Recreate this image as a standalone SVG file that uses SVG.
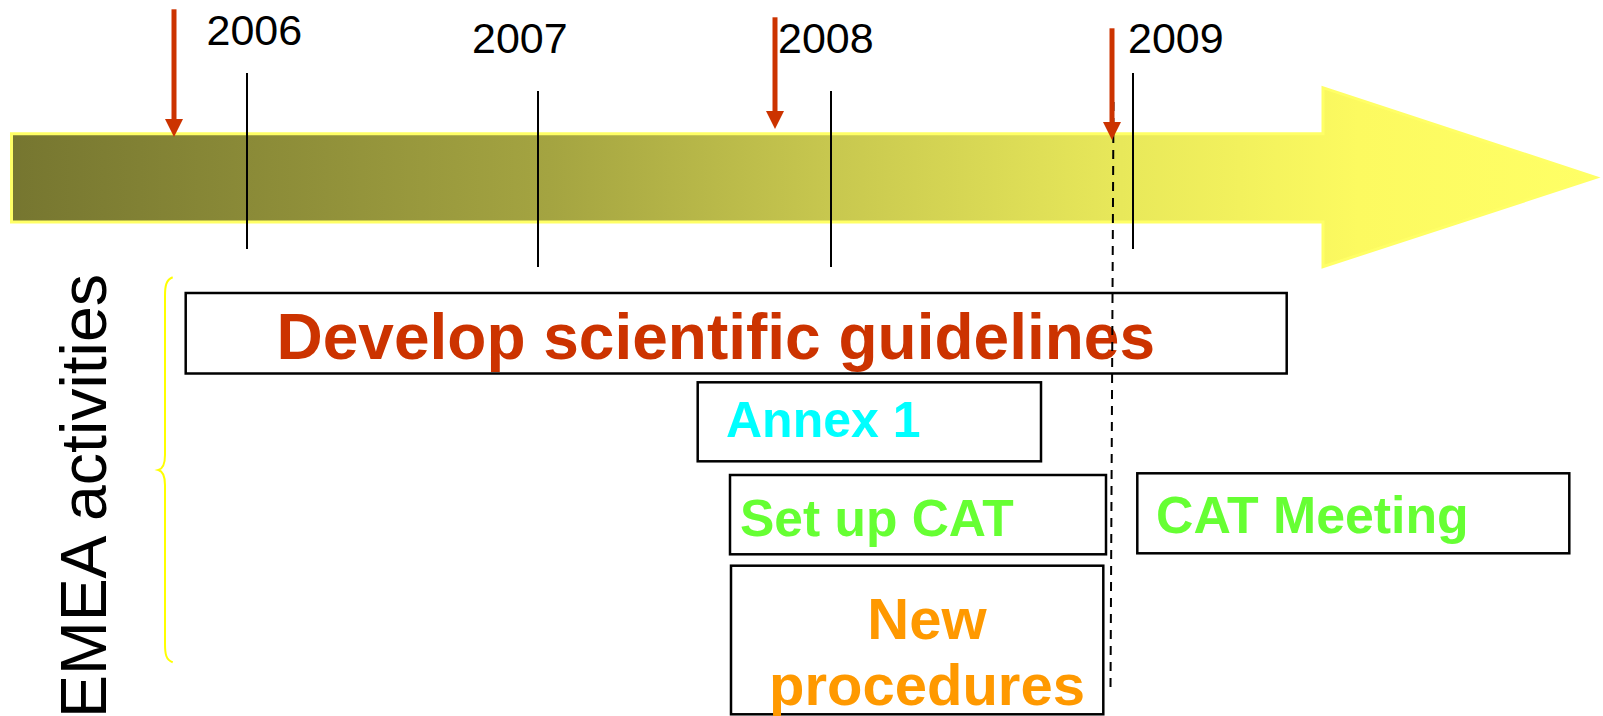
<svg xmlns="http://www.w3.org/2000/svg" width="1603" height="716" viewBox="0 0 1603 716">
  <defs>
    <linearGradient id="barGrad" gradientUnits="userSpaceOnUse" x1="11" y1="0" x2="1596" y2="0">
      <stop offset="0" stop-color="#767630"/>
      <stop offset="0.34" stop-color="#A4A441"/>
      <stop offset="0.52" stop-color="#C8C84F"/>
      <stop offset="0.7" stop-color="#E8E85A"/>
      <stop offset="0.85" stop-color="#FCFA60"/>
      <stop offset="1" stop-color="#FFFF66"/>
    </linearGradient>
    <marker id="redHead" markerUnits="userSpaceOnUse" markerWidth="18" markerHeight="18" viewBox="0 0 18 18" refX="1" refY="9" orient="auto">
      <path d="M0,0 L18,9 L0,18 z" fill="#CC3300"/>
    </marker>
    <style>
      .year { font-family: "Liberation Sans", Arial, sans-serif; font-size: 43px; fill: #000; }
      .tick { stroke: #000; stroke-width: 2; }
      .box { fill: #fff; stroke: #000; stroke-width: 2.5; }
      .lbl { font-family: "Liberation Sans", Arial, sans-serif; font-weight: bold; }
      .red-arrow { stroke: #CC3300; stroke-width: 5; fill: none; marker-end: url(#redHead); }
    </style>
  </defs>

  <rect width="1603" height="716" fill="#fff"/>

  <g id="timeline">
    <path d="M11.5,133.8 L1323,133.8 L1323,87.7 L1595.7,177.5 L1323,266.7 L1323,222 L11.5,222 Z" fill="url(#barGrad)" stroke="#FFFF66" stroke-width="3" stroke-linejoin="miter"/>
  </g>

  <g id="years">
    <text class="year" x="206.5" y="45">2006</text>
    <text class="year" x="472" y="52.7">2007</text>
    <text class="year" x="778" y="52.7">2008</text>
    <text class="year" x="1128" y="52.7">2009</text>
  </g>

  <g id="ticks">
    <line class="tick" x1="247" y1="73" x2="247" y2="249"/>
    <line class="tick" x1="538" y1="91" x2="538" y2="267"/>
    <line class="tick" x1="831" y1="91" x2="831" y2="267"/>
    <line class="tick" x1="1133" y1="73" x2="1133" y2="249"/>
  </g>

  <g id="label-emea">
    <text class="lbl" style="font-weight:normal" transform="translate(106,274) rotate(-90)" x="-444" y="0" font-size="65" textLength="444" lengthAdjust="spacingAndGlyphs" fill="#000">EMEA activities</text>
    <path d="M172.7,277.3 C166,280 165,286 165,296 L165,455 C165,464 162,469 158.3,470 C162,471 165,476 165,485 L165,644 C165,654 166,660 172.7,662.3" fill="none" stroke="#FFFF00" stroke-width="2"/>
  </g>

  <g id="node-develop">
    <rect class="box" x="185.7" y="293" width="1101" height="80.5"/>
    <text class="lbl" x="276.5" y="359" font-size="64" fill="#CC3300">Develop scientific guidelines</text>
  </g>

  <g id="node-annex">
    <rect class="box" x="697.7" y="382.3" width="343.3" height="79"/>
    <text class="lbl" x="726" y="437.3" font-size="50" fill="#00FFFF">Annex 1</text>
  </g>

  <g id="node-setup">
    <rect class="box" x="730" y="475" width="376" height="79.3"/>
    <text class="lbl" x="740" y="536" font-size="51.5" fill="#66FF33">Set up CAT</text>
  </g>

  <g id="node-meeting">
    <rect class="box" x="1137.3" y="473.3" width="432" height="80"/>
    <text class="lbl" x="1156" y="532.7" font-size="51.8" fill="#66FF33">CAT Meeting</text>
  </g>

  <g id="node-procedures">
    <rect class="box" x="731" y="565.7" width="372.3" height="148.6"/>
    <text class="lbl" x="927" y="639" font-size="58" fill="#FF9900" text-anchor="middle">New</text>
    <text class="lbl" x="927" y="705" font-size="58" fill="#FF9900" text-anchor="middle">procedures</text>
  </g>

  <g id="connectors">
    <line x1="1113.5" y1="102" x2="1110.5" y2="690" stroke="#000" stroke-width="2" stroke-dasharray="9,7"/>
    <line class="red-arrow" x1="174" y1="9.3" x2="174" y2="120"/>
    <line class="red-arrow" x1="775" y1="17.3" x2="775" y2="112"/>
    <line class="red-arrow" x1="1112" y1="28.3" x2="1112" y2="123"/>
  </g>
</svg>
